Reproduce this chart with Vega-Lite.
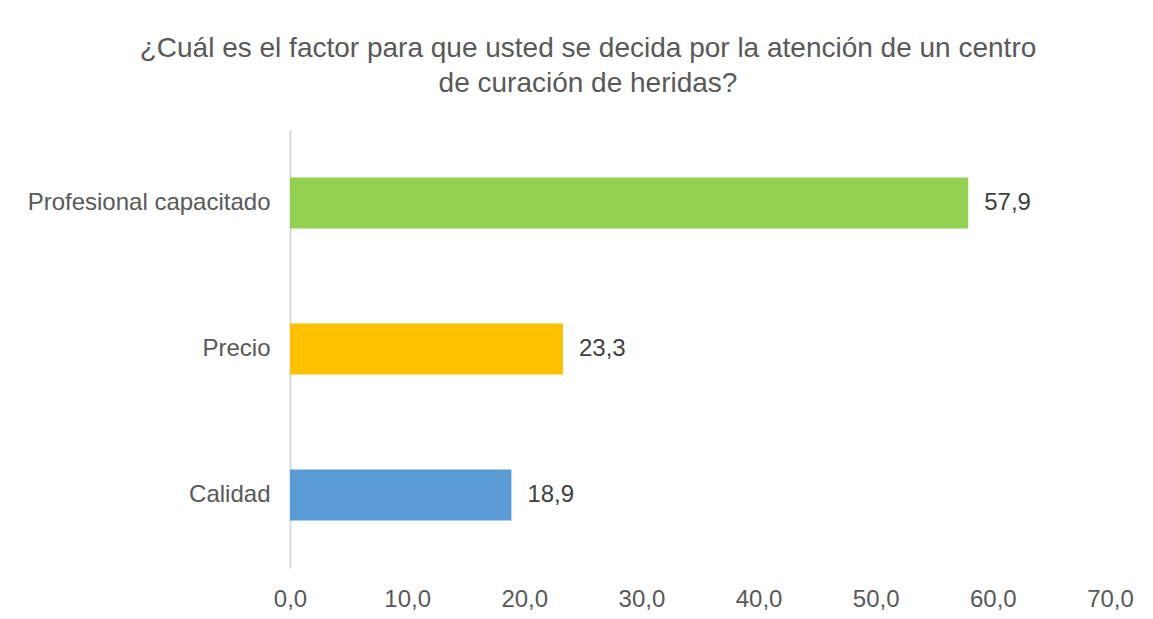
{
  "$schema": "https://vega.github.io/schema/vega-lite/v6.json",
  "autosize": {"type": "none"},
  "padding": {"left": 290, "top": 130, "right": 43, "bottom": 51},
  "width": 820,
  "height": 438,
  "background": "white",
  "config": {
    "font": "Liberation Sans",
    "view": {"stroke": null},
    "locale": {"number": {"decimal": ",", "thousands": ".", "grouping": [3], "currency": ["", " €"]}}
  },
  "title": {
    "text": ["¿Cuál es el factor para que usted se decida por la atención de un centro", "de curación de heridas?"],
    "fontSize": 28,
    "fontWeight": "normal",
    "color": "#595959",
    "anchor": "middle",
    "dx": -112,
    "offset": 32,
    "lineHeight": 35
  },
  "data": {
    "values": [
      {"factor": "Profesional capacitado", "valor": 57.9, "color": "#92D050"},
      {"factor": "Precio", "valor": 23.3, "color": "#FFC000"},
      {"factor": "Calidad", "valor": 18.9, "color": "#5B9BD5"}
    ]
  },
  "encoding": {
    "y": {
      "field": "factor",
      "type": "nominal",
      "sort": null,
      "scale": {"paddingInner": 0.65, "paddingOuter": 0.325},
      "axis": {
        "title": null,
        "ticks": false,
        "labelFontSize": 24,
        "labelColor": "#595959",
        "labelPadding": 20,
        "labelLimit": 320,
        "domainColor": "#D9D9D9",
        "domainWidth": 2
      }
    },
    "x": {
      "field": "valor",
      "type": "quantitative",
      "scale": {"domain": [0, 70]},
      "axis": {
        "title": null,
        "values": [0, 10, 20, 30, 40, 50, 60, 70],
        "format": ".1f",
        "grid": false,
        "domain": false,
        "ticks": false,
        "labelFontSize": 24,
        "labelColor": "#595959",
        "labelPadding": 19,
        "labelFlush": false
      }
    }
  },
  "layer": [
    {
      "mark": {"type": "bar"},
      "encoding": {
        "color": {"field": "color", "type": "nominal", "scale": null}
      }
    },
    {
      "mark": {"type": "text", "align": "left", "baseline": "middle", "dx": 16, "fontSize": 24, "color": "#404040"},
      "encoding": {
        "text": {"field": "valor", "type": "quantitative", "format": ".1f"}
      }
    }
  ]
}
